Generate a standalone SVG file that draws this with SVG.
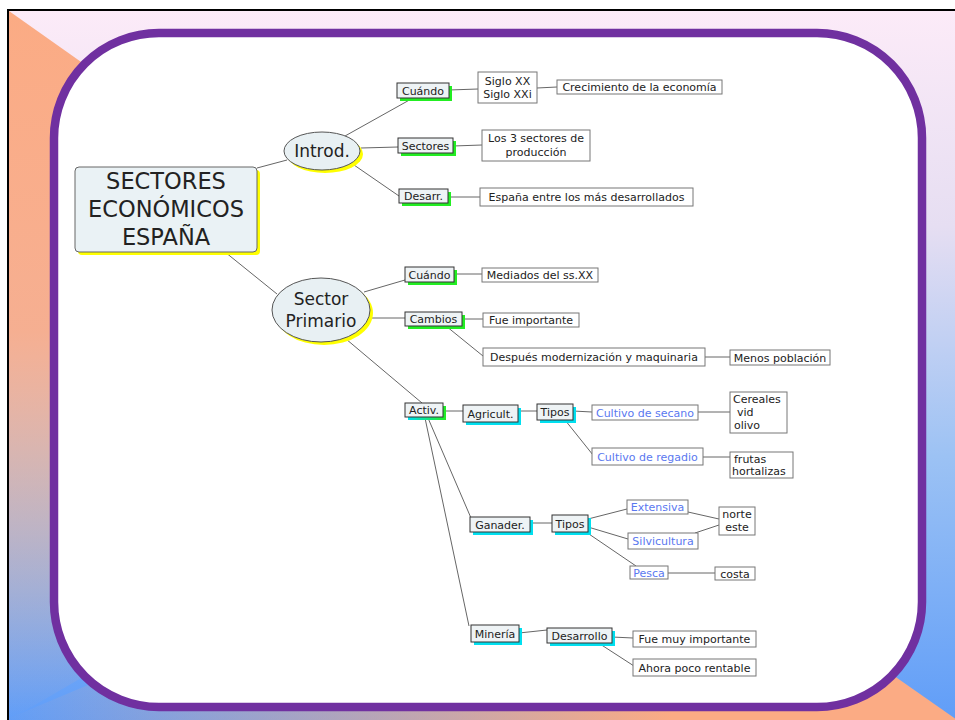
<svg xmlns="http://www.w3.org/2000/svg" width="955" height="720" viewBox="0 0 955 720">
<defs>
<linearGradient id="bg" x1="0" y1="0" x2="0" y2="1">
<stop offset="0" stop-color="#fcebf8"/>
<stop offset="0.3" stop-color="#e6def2"/>
<stop offset="0.62" stop-color="#9cc2f4"/>
<stop offset="1" stop-color="#5e9cf8"/>
</linearGradient>
<linearGradient id="orTL" x1="0" y1="0" x2="0" y2="1">
<stop offset="0" stop-color="#fbab84" stop-opacity="1"/>
<stop offset="0.45" stop-color="#f8ad8c" stop-opacity="0.95"/>
<stop offset="1" stop-color="#f5b090" stop-opacity="0"/>
</linearGradient>
<linearGradient id="orBR" x1="0" y1="0" x2="1" y2="0">
<stop offset="0" stop-color="#fbab84" stop-opacity="0"/>
<stop offset="0.7" stop-color="#fbab84" stop-opacity="1"/>
<stop offset="1" stop-color="#fbab84" stop-opacity="1"/>
</linearGradient>
<linearGradient id="cg" x1="0" y1="0" x2="1" y2="0">
<stop offset="0" stop-color="#00e0f0"/>
<stop offset="1" stop-color="#22ee22"/>
</linearGradient>
<style>
text{font-family:"DejaVu Sans","Verdana",sans-serif;fill:#222}
.s{font-size:11px}
.c{text-anchor:middle}
.b{fill:#5a78f0}
.br{fill:#eef3f5;stroke:#333;stroke-width:1}
.lf{fill:#fff;stroke:#777;stroke-width:1}
.gs{fill:#22ee22}
.cs{fill:#00e0f0}
.ys{fill:#ffff00}
.ls{fill:#bbb}
#connectors line{stroke:#666;stroke-width:1}
</style>
</defs>

<rect x="8" y="10" width="960" height="720" fill="url(#bg)" stroke="#000" stroke-width="2"/>
<polygon points="9,11 560,400 9,720" fill="url(#orTL)"/>
<polygon points="960,722 600,470 0,722" fill="url(#orBR)"/>
<rect x="54" y="33" width="868" height="674" rx="105" ry="105" fill="#fff" stroke="#7030a0" stroke-width="8.5"/>

<g id="connectors">
<line x1="257" y1="168" x2="287" y2="160"/>
<line x1="225" y1="252" x2="277" y2="294"/>
<line x1="345" y1="136" x2="413" y2="98"/>
<line x1="361" y1="148" x2="398" y2="147"/>
<line x1="354" y1="165" x2="399" y2="196"/>
<line x1="449" y1="90" x2="478" y2="89"/>
<line x1="537" y1="88" x2="557" y2="87"/>
<line x1="453" y1="146" x2="482" y2="145"/>
<line x1="448" y1="197" x2="480" y2="197"/>
<line x1="364" y1="292" x2="405" y2="280"/>
<line x1="372" y1="318" x2="405" y2="318"/>
<line x1="446" y1="326" x2="483" y2="356"/>
<line x1="454" y1="274" x2="482" y2="274"/>
<line x1="462" y1="319" x2="483" y2="319"/>
<line x1="705" y1="357" x2="730" y2="357"/>
<line x1="346" y1="339" x2="422" y2="403"/>
<line x1="443" y1="411" x2="463" y2="411"/>
<line x1="518" y1="411" x2="537" y2="411"/>
<line x1="573" y1="411" x2="592" y2="412"/>
<line x1="565" y1="420" x2="593" y2="455"/>
<line x1="698" y1="412" x2="730" y2="412"/>
<line x1="703" y1="457" x2="730" y2="457"/>
<line x1="428" y1="418" x2="471" y2="518"/>
<line x1="425" y1="418" x2="469" y2="626"/>
<line x1="530" y1="523" x2="552" y2="523"/>
<line x1="588" y1="519" x2="627" y2="509"/>
<line x1="588" y1="527" x2="628" y2="539"/>
<line x1="586" y1="532" x2="636" y2="566"/>
<line x1="688" y1="512" x2="719" y2="519"/>
<line x1="695" y1="533" x2="719" y2="525"/>
<line x1="668" y1="573" x2="715" y2="573"/>
<line x1="519" y1="633" x2="547" y2="630"/>
<line x1="612" y1="637" x2="633" y2="638"/>
<line x1="600" y1="644" x2="634" y2="666"/>
</g>

<g id="central">
<rect x="78" y="170" width="182" height="85" rx="4" class="ys"/>
<rect x="75" y="167" width="182" height="85" rx="4" fill="#eaf2f5" stroke="#666" stroke-width="1"/>
<text x="166" y="189" class="c" font-size="22.5">SECTORES</text>
<text x="166" y="217" class="c" font-size="22.5">ECONÓMICOS</text>
<text x="166" y="245" class="c" font-size="22.5">ESPAÑA</text>
</g>

<g id="introd">
<ellipse cx="325" cy="154" rx="38" ry="19" class="ys"/>
<ellipse cx="322" cy="151" rx="38" ry="19" fill="#e8f0f3" stroke="#555" stroke-width="1"/>
<text x="322" y="157" class="c" font-size="17">Introd.</text>
</g>

<g id="sectorprimario">
<ellipse cx="324" cy="313" rx="49" ry="32" class="ys"/>
<ellipse cx="321" cy="310" rx="49" ry="32" fill="#e8f0f3" stroke="#555" stroke-width="1"/>
<text x="321" y="305" class="c" font-size="17">Sector</text>
<text x="321" y="327" class="c" font-size="17">Primario</text>
</g>

<g id="cuando1"><rect x="400" y="86" width="52" height="15" class="gs"/><rect x="397" y="83" width="52" height="15" class="br"/><text x="423" y="94.5" class="s c">Cuándo</text></g>
<g id="sectores"><rect x="401" y="141" width="55" height="15" class="gs"/><rect x="398" y="138" width="55" height="15" class="br"/><text x="425.5" y="149.5" class="s c">Sectores</text></g>
<g id="desarr"><rect x="402" y="192" width="49" height="14" class="gs"/><rect x="399" y="189" width="49" height="14" class="br"/><text x="423.5" y="200" class="s c">Desarr.</text></g>
<g id="cuando2"><rect x="408" y="270" width="49" height="15" class="gs"/><rect x="405" y="267" width="49" height="15" class="br"/><text x="429.5" y="278.5" class="s c">Cuándo</text></g>
<g id="cambios"><rect x="408" y="315" width="57" height="14" class="gs"/><rect x="405" y="312" width="57" height="14" class="br"/><text x="433.5" y="323" class="s c">Cambios</text></g>
<g id="activ"><rect x="408" y="406" width="38" height="14" fill="url(#cg)"/><rect x="405" y="403" width="38" height="14" class="br"/><text x="424" y="414" class="s c">Activ.</text></g>
<g id="agricult"><rect x="466" y="408" width="55" height="17" class="cs"/><rect x="463" y="405" width="55" height="17" class="br"/><text x="490.5" y="417.5" class="s c">Agricult.</text></g>
<g id="tipos1"><rect x="540" y="407" width="36" height="16" class="cs"/><rect x="537" y="404" width="36" height="16" class="br"/><text x="555" y="416" class="s c">Tipos</text></g>
<g id="ganader"><rect x="473" y="520" width="60" height="15" class="cs"/><rect x="470" y="517" width="60" height="15" class="br"/><text x="500" y="528.5" class="s c">Ganader.</text></g>
<g id="tipos2"><rect x="555" y="518" width="36" height="17" class="cs"/><rect x="552" y="515" width="36" height="17" class="br"/><text x="570" y="527.5" class="s c">Tipos</text></g>
<g id="mineria"><rect x="474" y="628" width="48" height="17" class="cs"/><rect x="471" y="625" width="48" height="17" class="br"/><text x="495" y="637.5" class="s c">Minería</text></g>
<g id="desarrollo"><rect x="550" y="631" width="65" height="15" class="cs"/><rect x="547" y="628" width="65" height="15" class="br"/><text x="579.5" y="639.5" class="s c">Desarrollo</text></g>

<g id="siglo"><rect x="478" y="72" width="59" height="31" class="lf"/><text x="507.5" y="85" class="s c">Siglo XX</text><text x="507.5" y="98" class="s c">Siglo XXi</text></g>
<g id="crecimiento"><rect x="557" y="80" width="165" height="14" class="lf"/><text x="639.5" y="91" class="s c">Crecimiento de la economía</text></g>
<g id="los3"><rect x="482" y="130" width="108" height="31" class="lf"/><text x="536" y="142" class="s c">Los 3 sectores de</text><text x="536" y="156" class="s c">producción</text></g>
<g id="espana"><rect x="480" y="188" width="213" height="18" class="lf"/><text x="586.5" y="201" class="s c">España entre los más desarrollados</text></g>
<g id="mediados"><rect x="482" y="268" width="116" height="14" class="lf"/><text x="540" y="279" class="s c">Mediados del ss.XX</text></g>
<g id="fueimportante"><rect x="483" y="313" width="96" height="14" class="lf"/><text x="531" y="324" class="s c">Fue importante</text></g>
<g id="despues"><rect x="483" y="348" width="222" height="18" class="lf"/><text x="594" y="361" class="s c">Después modernización y maquinaria</text></g>
<g id="menos"><rect x="730" y="350" width="100" height="15" class="lf"/><text x="780" y="361.5" class="s c">Menos población</text></g>
<g id="secano"><rect x="592" y="405" width="106" height="15" class="lf"/><text x="645" y="416.5" class="s c b">Cultivo de secano</text></g>
<g id="regadio"><rect x="592" y="448" width="111" height="17" class="lf"/><text x="647.5" y="460.5" class="s c b">Cultivo de regadio</text></g>
<g id="cereales"><rect x="730" y="392" width="57" height="41" class="lf"/><text x="733" y="403" class="s">Cereales</text><text x="737" y="416" class="s">vid</text><text x="734" y="429" class="s">olivo</text></g>
<g id="frutas"><rect x="730" y="452" width="63" height="26" class="lf"/><text x="734" y="463" class="s">frutas</text><text x="732" y="475" class="s">hortalizas</text></g>
<g id="extensiva"><rect x="627" y="500" width="61" height="14" class="lf"/><text x="657.5" y="511" class="s c b">Extensiva</text></g>
<g id="silvicultura"><rect x="628" y="533" width="70" height="16" class="lf"/><text x="663" y="545" class="s c b">Silvicultura</text></g>
<g id="pesca"><rect x="630" y="566" width="38" height="13" class="lf"/><text x="649" y="576.5" class="s c b">Pesca</text></g>
<g id="norte"><rect x="719" y="507" width="36" height="28" class="lf"/><text x="737" y="518" class="s c">norte</text><text x="737" y="531" class="s c">este</text></g>
<g id="costa"><rect x="715" y="567" width="40" height="13" class="lf"/><text x="735" y="577.5" class="s c">costa</text></g>
<g id="fuemuy"><rect x="633" y="631" width="123" height="16" class="lf"/><text x="694.5" y="643" class="s c">Fue muy importante</text></g>
<g id="ahora"><rect x="633" y="659" width="123" height="17" class="lf"/><text x="694.5" y="671.5" class="s c">Ahora poco rentable</text></g>
</svg>
